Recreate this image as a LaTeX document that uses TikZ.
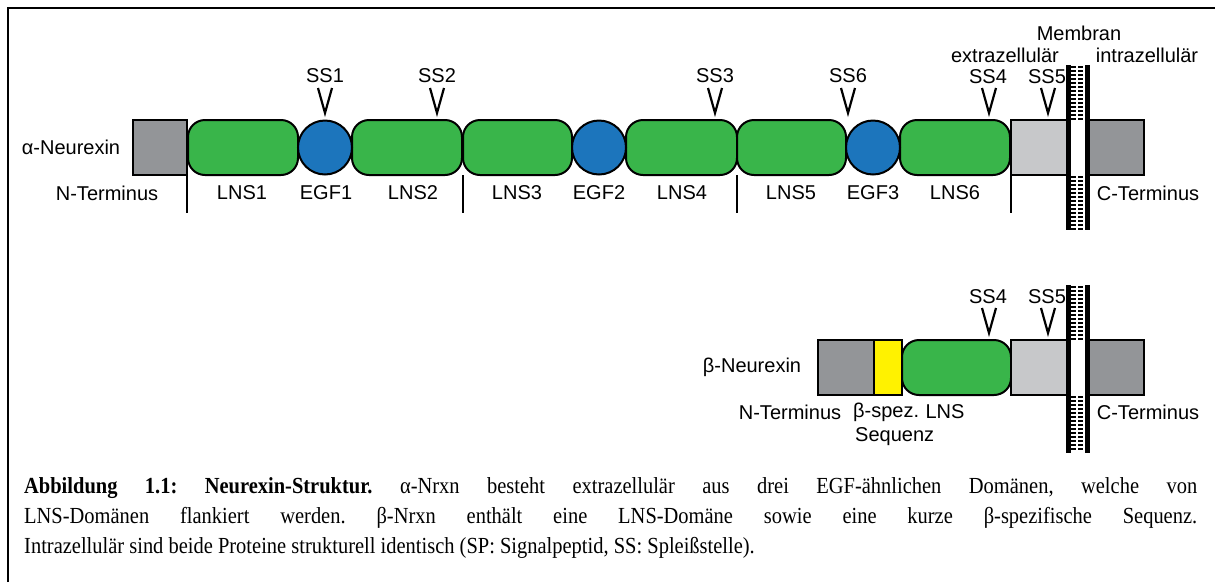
\documentclass[tikz,border=0pt]{standalone}
\usepackage{fontspec}
\setmainfont{Liberation Serif}
\newfontfamily\labelfont{Liberation Sans}
\newfontfamily\capfont{Liberation Serif}[FakeStretch=0.89]
\definecolor{lnsgreen}{RGB}{57,181,74}
\definecolor{egfblue}{RGB}{28,117,188}
\definecolor{darkbox}{RGB}{147,149,152}
\definecolor{lightbox}{RGB}{199,200,202}
\definecolor{betayellow}{RGB}{255,242,0}
\begin{document}
\begin{tikzpicture}[x=1pt,y=-1pt,
  box/.style={draw=black, line width=2pt, inner sep=0pt, minimum height=55pt},
  lns/.style={box, fill=lnsgreen, rounded corners=17pt},
  egf/.style={draw=black, line width=2pt, circle, fill=egfblue, minimum size=54pt, inner sep=0pt},
  lab/.style={font=\labelfont\fontsize{20}{24}\selectfont, inner sep=0pt},
  vmark/.style={line width=2.2pt},
  memb/.style={line width=5pt},
  hatch/.style={line width=1.2pt},
  tickline/.style={line width=1.5pt}]
\useasboundingbox (0,0) rectangle (1215,582);
% frame
\draw[line width=2pt] (7.5,582) -- (7.5,8) -- (1215,8);

% ===== alpha-Neurexin =====
\node[lab] (alab) at (71,147) {α-Neurexin};
\node[box, fill=darkbox, minimum width=54pt] (ant) at (160,147.5) {};
\node[lns, minimum width=110pt] (alns1) at (243,147.5) {};
\node[lns, minimum width=110pt] (alns2) at (407,147.5) {};
\node[lns, minimum width=109pt] (alns3) at (517.5,147.5) {};
\node[lns, minimum width=111pt] (alns4) at (681.5,147.5) {};
\node[lns, minimum width=109pt] (alns5) at (791.5,147.5) {};
\node[lns, minimum width=110pt] (alns6) at (955,147.5) {};
\node[egf] (aegf1) at (325,147.5) {};
\node[egf] (aegf2) at (599,147.5) {};
\node[egf] (aegf3) at (873,147.5) {};
\node[box, fill=lightbox, minimum width=57pt] (atm) at (1039.5,147.5) {};
\node[box, fill=darkbox, minimum width=56pt] (act) at (1116,147.5) {};

% labels below
\node[lab] (lnt) at (107,193) {N-Terminus};
\node[lab] (l1) at (242,193) {LNS1};
\node[lab] (e1) at (326,193) {EGF1};
\node[lab] (l2) at (413,193) {LNS2};
\node[lab] (l3) at (517,193) {LNS3};
\node[lab] (e2) at (599,193) {EGF2};
\node[lab] (l4) at (682,193) {LNS4};
\node[lab] (l5) at (791,193) {LNS5};
\node[lab] (e3) at (873,193) {EGF3};
\node[lab] (l6) at (955,193) {LNS6};
\node[lab] (lct) at (1148,193) {C-Terminus};

% ticks
\foreach \xx in {187,463,737,1011} {\draw[tickline] (\xx,175) -- (\xx,213);}

% splice sites
\node[lab] (ss1) at (325,76) {SS1};
\node[lab] (ss2) at (437,76) {SS2};
\node[lab] (ss3) at (715,76) {SS3};
\node[lab] (ss6) at (848,76) {SS6};
\node[lab] (ss4) at (988,77) {SS4};
\node[lab] (ss5) at (1047,77) {SS5};
\foreach \xx in {325,437,715,848,989,1048} {\draw[vmark] (\xx-7,88) -- (\xx,113) -- (\xx+7,88);}

\node[lab] (extra) at (1005,55) {extrazellulär};
\node[lab] (membr) at (1079,33) {Membran};
\node[lab] (intra) at (1147,55) {intrazellulär};

% membrane alpha
\foreach \yy in {67,71,...,119,177,181,...,229} {
  \draw[hatch] (1071,\yy) -- (1076,\yy);
  \draw[hatch] (1078,\yy) -- (1083,\yy);}
\draw[memb] (1068.5,65) -- (1068.5,230);
\draw[memb] (1087.5,65) -- (1087.5,230);

% ===== beta-Neurexin =====
\node[lab] (blab) at (752,367) {β-Neurexin};
\node[box, fill=darkbox, minimum width=56pt] (bnt) at (846,367.5) {};
\node[box, fill=betayellow, minimum width=28pt] (bsp) at (888,367.5) {};
\node[lns, minimum width=109pt] (blns) at (956.5,367.5) {};
\node[box, fill=lightbox, minimum width=57pt] (btm) at (1039.5,367.5) {};
\node[box, fill=darkbox, minimum width=56pt] (bct) at (1116,367.5) {};

\node[lab] (bss4) at (988,297) {SS4};
\node[lab] (bss5) at (1047,297) {SS5};
\foreach \xx in {989,1048} {\draw[vmark] (\xx-7,308) -- (\xx,333) -- (\xx+7,308);}

\node[lab] (bntl) at (790,412) {N-Terminus};
\node[lab, anchor=west] (bspl) at (853,412) {β-spez.};
\node[lab, anchor=west] (bseq) at (855,437) {Sequenz};
\node[lab] (blnsl) at (945,412) {LNS};
\node[lab] (bctl) at (1148,412) {C-Terminus};

% membrane beta
\foreach \yy in {287,291,...,339,397,401,...,451} {
  \draw[hatch] (1071,\yy) -- (1076,\yy);
  \draw[hatch] (1078,\yy) -- (1083,\yy);}
\draw[memb] (1068.5,285) -- (1068.5,453);
\draw[memb] (1087.5,285) -- (1087.5,453);

% caption
\node[anchor=north west, inner sep=0pt, align=left, font=\capfont\fontsize{23}{30}\selectfont\frenchspacing] (cap) at (24,477.5) {%
\makebox[1173pt][s]{\textbf{Abbildung 1.1: Neurexin-Struktur.} α-Nrxn besteht extrazellulär aus drei EGF-ähnlichen Domänen, welche von}\\
\makebox[1173pt][s]{LNS-Domänen flankiert werden. β-Nrxn enthält eine LNS-Domäne sowie eine kurze β-spezifische Sequenz.}\\
Intrazellulär sind beide Proteine strukturell identisch (SP: Signalpeptid, SS: Spleißstelle).};
\end{tikzpicture}
\end{document}
